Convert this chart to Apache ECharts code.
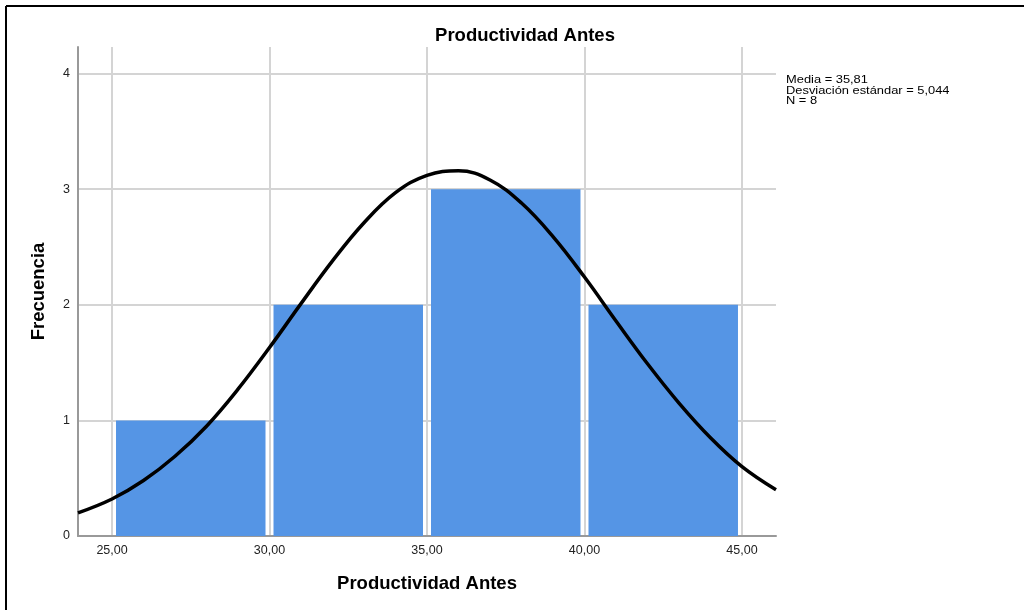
<!DOCTYPE html>
<html>
<head>
<meta charset="utf-8">
<script src="https://cdn.jsdelivr.net/npm/echarts@6/dist/echarts.min.js"></script>
<style>
  html, body { margin: 0; padding: 0; background: #fff; }
  #chart { width: 1024px; height: 610px; }
</style>
</head>
<body>
<div id="chart"></div>
<script>
// histogram bins (lower, upper) and frequencies
const binStart = [25, 30, 35, 40];
const binEnd = [30, 35, 40, 45];
const frequency = [1, 2, 3, 2];

// normal curve
const curveX = [23.92, 25, 26, 27, 28, 29, 30, 31, 32, 33, 34, 35, 36, 37, 38, 39, 40, 41, 42, 43, 44, 45, 46.08];
const curveY = [0.20, 0.32, 0.48, 0.69, 0.95, 1.27, 1.63, 2.01, 2.38, 2.71, 2.97, 3.12, 3.16, 3.08, 2.88, 2.59, 2.24, 1.86, 1.49, 1.15, 0.85, 0.60, 0.40];

const xTicks = [25, 30, 35, 40, 45];
const yTicks = [0, 1, 2, 3, 4];
const statsLines = ["Media = 35,81", "Desviación estándar = 5,044", "N = 8"];

const chart = echarts.init(document.getElementById("chart"));
const font = "Arial, 'Liberation Sans', sans-serif";
const barColor = "#5595e5";
const bigText = { fontSize: 18.5, fontWeight: "bold", color: "#000", fontFamily: font };

const binData = binStart.map((s, i) => [s, binEnd[i], frequency[i]]);
const curveData = curveX.map((x, i) => [x, curveY[i]]);

const option = {
  animation: false,
  textStyle: { fontFamily: font },
  title: {
    text: "Productividad Antes",
    left: 520,
    top: 21,
    textAlign: "center",
    textStyle: bigText,
  },
  grid: { left: 78, right: 248, top: 47, bottom: 74 },
  xAxis: {
    type: "value",
    min: 23.92,
    max: 46.08,
    name: "Productividad Antes",
    nameLocation: "middle",
    nameGap: 38,
    nameTextStyle: bigText,
    axisLine: { show: true, lineStyle: { color: "#999", width: 2 } },
    axisTick: { show: false, customValues: xTicks },
    axisLabel: {
      customValues: xTicks,
      color: "#222",
      fontSize: 12.5,
      margin: 8,
      formatter: (v) => v.toFixed(2).replace(".", ","),
    },
    splitLine: { show: true, lineStyle: { color: "#d4d4d4", width: 2 } },
  },
  yAxis: {
    type: "value",
    min: 0,
    max: 4.23,
    name: "Frecuencia",
    nameLocation: "middle",
    nameGap: 30,
    nameTextStyle: bigText,
    axisLine: { show: true, lineStyle: { color: "#999", width: 2 } },
    axisTick: { show: false, customValues: yTicks },
    axisLabel: { customValues: yTicks, color: "#222", fontSize: 12.5, margin: 8 },
    splitLine: { show: true, lineStyle: { color: "#d4d4d4", width: 2 } },
  },
  series: [
    {
      type: "custom",
      data: binData,
      encode: { x: [0, 1], y: 2 },
      renderItem: (params, api) => {
        const p0 = api.coord([api.value(0), 0]);
        const p1 = api.coord([api.value(1), api.value(2)]);
        const inset = 4;
        return {
          type: "rect",
          shape: {
            x: p0[0] + inset,
            y: p1[1],
            width: p1[0] - p0[0] - inset * 2,
            height: p0[1] - p1[1],
          },
          style: { fill: barColor },
        };
      },
      z: 2,
    },
    {
      type: "line",
      data: curveData,
      smooth: 0.4,
      showSymbol: false,
      lineStyle: { color: "#000", width: 3.5 },
      z: 3,
    },
  ],
  graphic: [
    {
      type: "text",
      x: 786,
      y: 75,
      scaleX: 1.17,
      style: {
        text: statsLines.join("\n"),
        fontSize: 11,
        lineHeight: 10.5,
        fill: "#000",
        fontFamily: font,
      },
    },
    {
      type: "line",
      shape: { x1: 6, y1: 6, x2: 1024, y2: 6 },
      style: { stroke: "#000", lineWidth: 2 },
    },
    {
      type: "line",
      shape: { x1: 6, y1: 6, x2: 6, y2: 610 },
      style: { stroke: "#000", lineWidth: 2 },
    },
  ],
};

chart.setOption(option);
</script>
</body>
</html>
